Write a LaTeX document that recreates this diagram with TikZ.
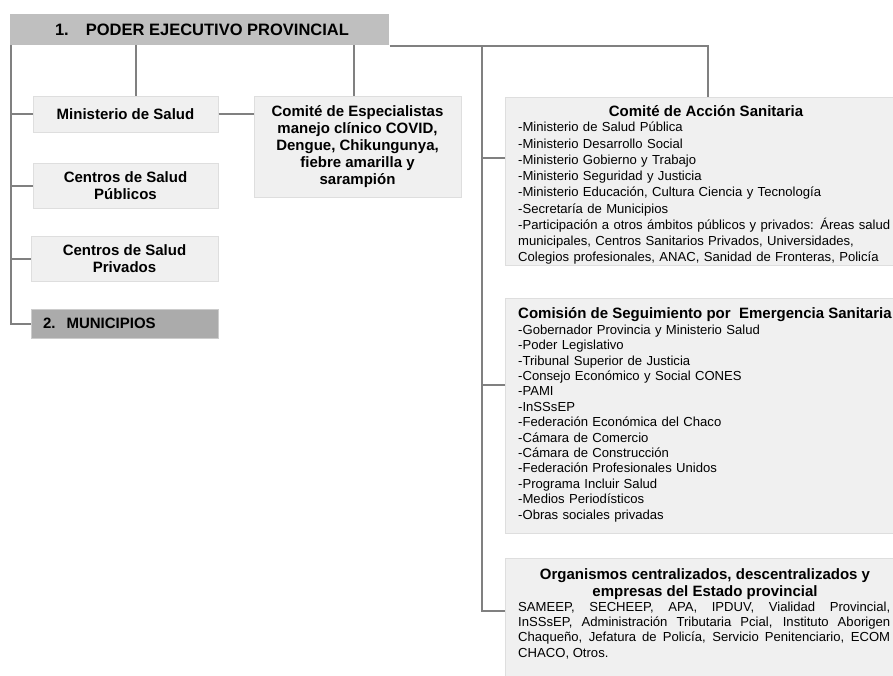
\documentclass[tikz,border=0pt]{standalone}
\usepackage{fontspec}
\setmainfont{Liberation Sans}
\hyphenpenalty=10000
\exhyphenpenalty=10000
\begin{document}
\begin{tikzpicture}[x=1pt,y=-1pt,
  box/.style={rectangle, draw=black!13, line width=1pt, fill=black!6, inner sep=0pt},
  conn/.style={draw=black!50, line width=2pt},
  bigbold/.style={font=\fontsize{15}{17}\selectfont\bfseries},
  listtext/.style={font=\fontsize{13.1}{16.25}\selectfont, anchor=north west,
    inner sep=0pt, text width=390pt, align=left},
]
\useasboundingbox (0,0) rectangle (893,675);

% ---- boxes ----
\node[box, fill=black!25, draw=none, minimum width=379pt, minimum height=31pt,
  font=\fontsize{16.5}{18}\selectfont\bfseries] (top) at (199.5,29.5)
  {\hspace{5pt}1.\hspace{17pt}PODER EJECUTIVO PROVINCIAL};

\node[box, bigbold, minimum width=185pt, minimum height=36pt] (minis) at (125.5,114)
  {Ministerio de Salud};
\node[box, bigbold, align=center, minimum width=185pt, minimum height=45pt] (pub) at (125.5,185.5)
  {Centros de Salud\\Públicos};
\node[box, bigbold, align=center, minimum width=187pt, minimum height=45pt] (priv) at (124.5,258.5)
  {Centros de Salud\\Privados};
\node[box, bigbold, fill=black!33, draw=black!20, text width=163pt, inner xsep=12pt,
  align=left, minimum height=29pt] (muni) at (124.5,323.5)
  {2.\hspace{11pt}MUNICIPIOS};

\node[box, bigbold, align=center, minimum width=207pt, minimum height=101pt] (cesp) at (357.5,146.5)
  {Comité de Especialistas\\manejo clínico COVID,\\Dengue, Chikungunya,\\fiebre amarilla y\\sarampión};

\node[box, minimum width=406pt, minimum height=168pt] (cas) at (708,181) {};
\node[box, minimum width=406pt, minimum height=235pt] (com) at (708,415.5) {};
\node[box, minimum width=406pt, minimum height=122pt] (org) at (708,619) {};

% ---- texts of the right-hand boxes ----
\node[bigbold, anchor=base, inner sep=0pt] (cash) at (706,116) {Comité de Acción Sanitaria};
\node[listtext] (casl) at (518,120.3) {\strut-Ministerio de Salud Pública\\
-Ministerio Desarrollo Social\\
-Ministerio Gobierno y Trabajo\\
-Ministerio Seguridad y Justicia\\
-Ministerio Educación, Cultura Ciencia y Tecnología\\
-Secretaría de Municipios\\
-Participación a otros ámbitos públicos y privados: Áreas salud\\
municipales, Centros Sanitarios Privados, Universidades,\\
Colegios profesionales, ANAC, Sanidad de Fronteras, Policía};

\node[bigbold, anchor=base west, inner sep=0pt] (comh) at (518,318.3)
  {Comisión de Seguimiento por\ \ Emergencia Sanitaria};
\node[listtext, font=\fontsize{13.1}{15.42}\selectfont] (coml) at (518,323.2) {\strut-Gobernador Provincia y Ministerio Salud\\
-Poder Legislativo\\
-Tribunal Superior de Justicia\\
-Consejo Económico y Social CONES\\
-PAMI\\
-InSSsEP\\
-Federación Económica del Chaco\\
-Cámara de Comercio\\
-Cámara de Construcción\\
-Federación Profesionales Unidos\\
-Programa Incluir Salud\\
-Medios Periodísticos\\
-Obras sociales privadas};

\node[font=\fontsize{15}{16.7}\selectfont\bfseries, align=center, anchor=north, inner sep=0pt] (orgh)
  at (705,567.6) {\strut Organismos centralizados, descentralizados y\\empresas del Estado provincial};
\node[font=\fontsize{13.1}{15.3}\selectfont, anchor=north west, inner sep=0pt, text width=372pt,
  align=justify] (orgb) at (518,600.3)
  {\strut SAMEEP, SECHEEP, APA, IPDUV, Vialidad Provincial,\linebreak
  InSSsEP, Administración Tributaria Pcial, Instituto Aborigen\linebreak
  Chaqueño, Jefatura de Policía, Servicio Penitenciario, ECOM\linebreak
  CHACO, Otros.};

% ---- connectors ----
\coordinate (ls) at (11,45);
\coordinate (mtop) at (136,45);
\coordinate (ctop) at (354,45);
\coordinate (rs) at (482,45);
\coordinate (casin) at (505,158);
\coordinate (comin) at (505,385);
\coordinate (orgin) at (505,611);

\draw[conn] (ls) |- (muni.west);
\draw[conn] (minis.west) -- (minis.west -| ls);
\draw[conn] (pub.west) -- (pub.west -| ls);
\draw[conn] (priv.west) -- (priv.west -| ls);
\draw[conn] (mtop) -- (mtop |- minis.north);
\draw[conn] (ctop) -- (ctop |- cesp.north);
\draw[conn] (minis.east) -- (minis.east -| cesp.west);
\draw[conn] (top.south east) -| (cas.north);
\draw[conn] (rs) |- (orgin);
\draw[conn] (casin) -- (casin -| rs);
\draw[conn] (comin) -- (comin -| rs);
\end{tikzpicture}
\end{document}
